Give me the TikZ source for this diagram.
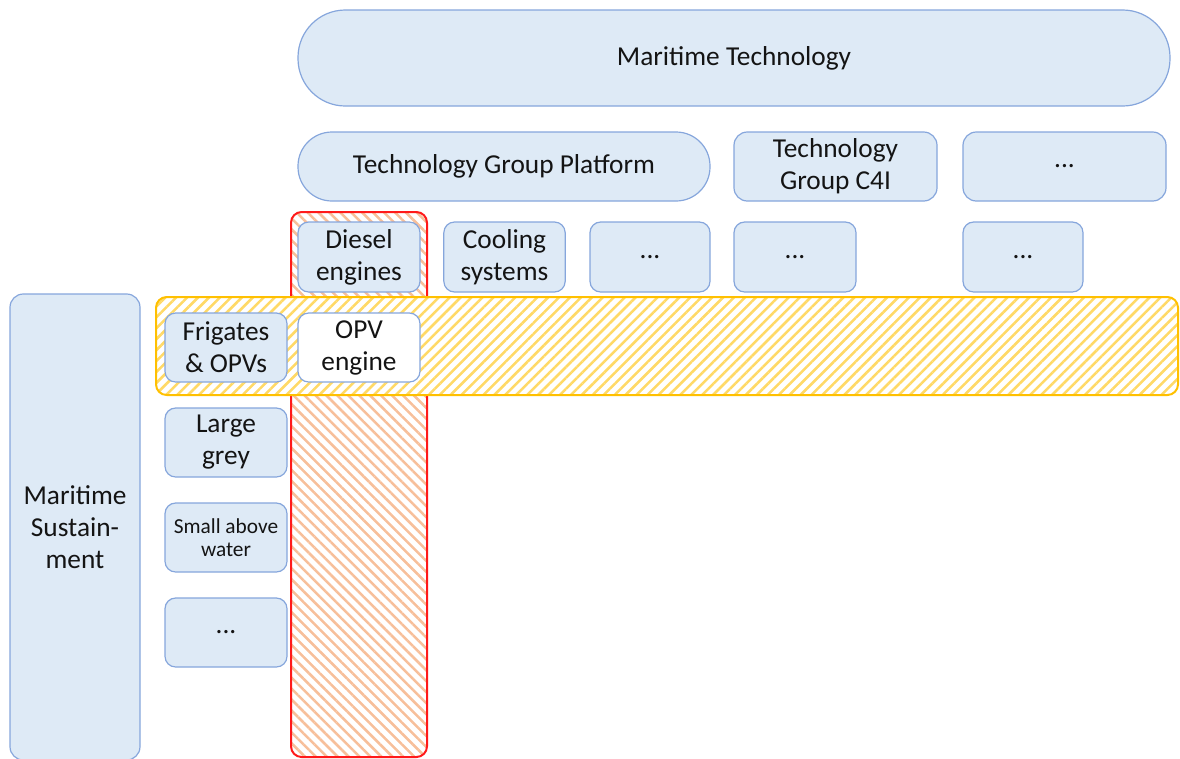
\documentclass[tikz,border=0pt]{standalone}
\usepackage{fontspec}
\setmainfont{Carlito}
\usetikzlibrary{patterns.meta}
\definecolor{boxfill}{HTML}{DEEAF6}
\definecolor{boxline}{HTML}{86A6DC}
\definecolor{hatchorange}{HTML}{F7BF9A}
\definecolor{hatchyellow}{HTML}{FFD966}
\definecolor{bandline}{HTML}{FFC000}
\definecolor{colline}{HTML}{FF1A1A}
\definecolor{ink}{HTML}{141414}
\tikzset{
  box/.style={draw=boxline, fill=boxfill, line width=0.9pt, rounded corners=8pt,
    inner sep=0pt, align=center, text=ink,
    font=\fontsize{20.5}{24}\selectfont},
  smalltext/.style={font=\fontsize{16}{17.5}\selectfont},
  column/.style={draw=colline, line width=1.5pt, rounded corners=8pt, inner sep=0pt,
    pattern={Lines[angle=-45,distance=5.8pt,line width=1.9pt]}, pattern color=hatchorange},
  band/.style={draw=bandline, line width=1.5pt, rounded corners=8pt, inner sep=0pt,
    preaction={fill=white},
    pattern={Lines[angle=45,distance=5.8pt,line width=1.9pt]}, pattern color=hatchyellow},
}
\begin{document}
\begin{tikzpicture}[x=0.75pt, y=-0.75pt]
\useasboundingbox (0,0) rectangle (1180,758);

% highlighted column (Diesel engines) and row (Frigates & OPVs)
\node[column, minimum width=102pt, minimum height=408.75pt] (col) at (359,484.5) {};
\node[band, minimum width=766.5pt, minimum height=73.5pt] (row) at (667,346) {};

% top level
\node[box, rounded corners=35.5pt, minimum width=654pt, minimum height=72pt] (mt) at (734,58) {Maritime Technology};

% technology groups
\node[box, rounded corners=25.5pt, minimum width=309pt, minimum height=51.75pt] (tgp) at (504,166.5) {Technology Group Platform};
\node[box, rounded corners=10pt, minimum width=152.25pt, minimum height=51.75pt] (tgc) at (835.5,166.5) {Technology\\Group C4I};
\node[box, rounded corners=10pt, minimum width=152.25pt, minimum height=51.75pt] (tgx) at (1064.5,166.5) {...};

% technologies
\node[box, minimum width=91.5pt, minimum height=52.5pt] (diesel) at (359,257) {Diesel\\engines};
\node[box, minimum width=91pt, minimum height=52.5pt] (cool) at (504.5,257) {Cooling\\systems};
\node[box, minimum width=90pt, minimum height=52.5pt] (ta) at (650,257) {...};
\node[box, minimum width=91.5pt, minimum height=52.5pt] (tb) at (795,257) {...};
\node[box, minimum width=90pt, minimum height=52.5pt] (tc) at (1023,257) {...};

% sustainment side
\node[box, rounded corners=10pt, minimum width=97.5pt, minimum height=349.5pt] (ms) at (75,527) {Maritime\\Sustain-\\ment};
\node[box, minimum width=91.5pt, minimum height=51.75pt] (frig) at (226,347.5) {Frigates\\\& OPVs};
\node[box, minimum width=91.5pt, minimum height=51.75pt] (grey) at (226,442.5) {Large\\grey};
\node[box, smalltext, minimum width=91.5pt, minimum height=51.75pt] (small) at (226,537.5) {Small above\\water};
\node[box, minimum width=91.5pt, minimum height=51.75pt] (sx) at (226,632.5) {...};

% intersection
\node[box, fill=white, minimum width=91.5pt, minimum height=51.75pt] (opv) at (359,347.5) {OPV\\engine};
\end{tikzpicture}
\end{document}
